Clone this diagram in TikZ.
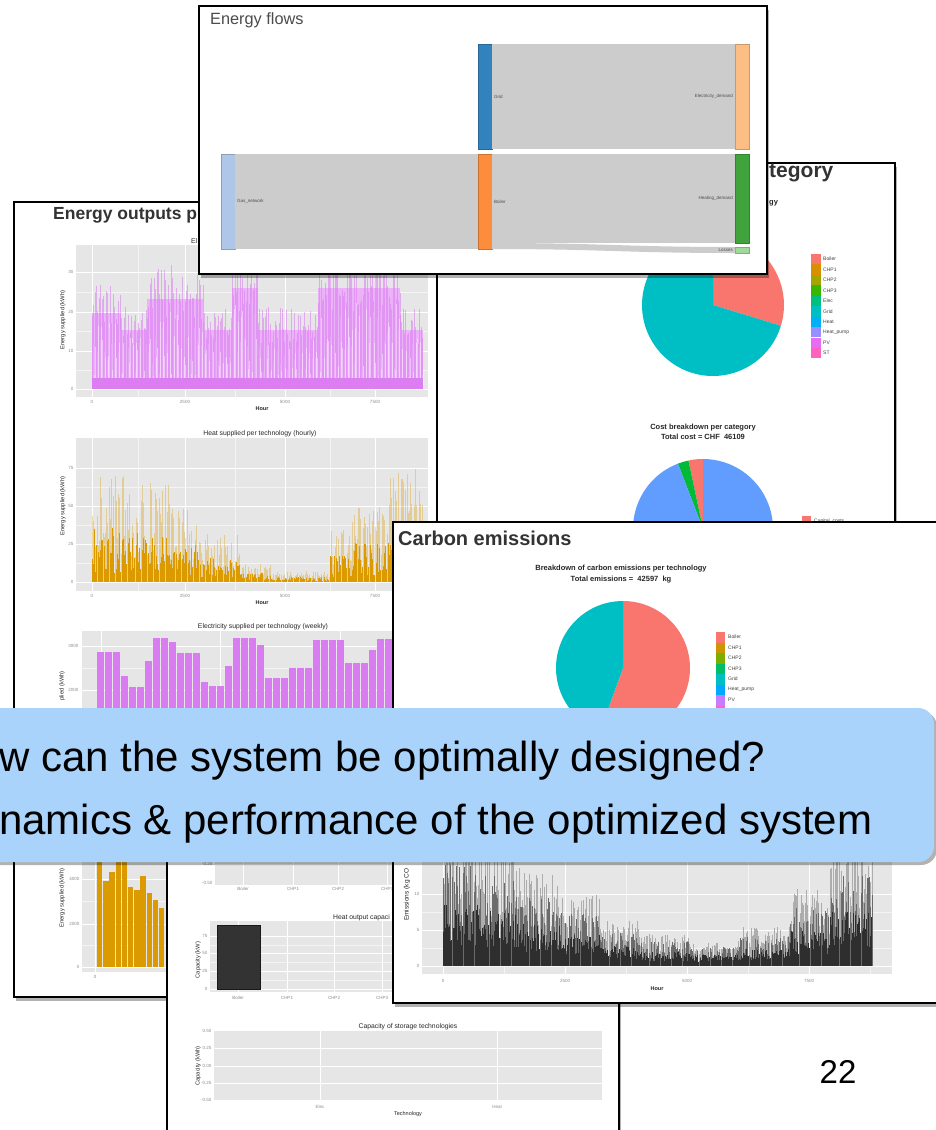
\documentclass[tikz,border=0pt]{standalone}
\usepackage{fontspec}
\setmainfont{Liberation Sans}
\usepackage{tikz}
\usetikzlibrary{positioning, shadows}

\definecolor{ggbg}{HTML}{E6E6E6}
\definecolor{ggsalmon}{HTML}{F8766D}
\definecolor{ggteal}{HTML}{00BFC4}
\definecolor{ggblue}{HTML}{619CFF}
\definecolor{gggreen}{HTML}{00BA38}
\definecolor{pvpink}{HTML}{D97CF2}
\definecolor{pvlight}{HTML}{EBB2F7}
\definecolor{pvdark}{HTML}{DC7DF2}
\definecolor{heatorange}{HTML}{DB9A00}
\definecolor{calloutblue}{HTML}{A9D3FA}
\definecolor{sgrid}{HTML}{3182BD}
\definecolor{selec}{HTML}{FDBE85}
\definecolor{sgas}{HTML}{AEC7E8}
\definecolor{sboiler}{HTML}{FD8D3C}
\definecolor{sheat}{HTML}{41A33E}
\definecolor{sloss}{HTML}{A1D99B}
\definecolor{slink}{HTML}{CCCCCC}
% ggplot hue palettes (10 and 8 levels)
\definecolor{ggc1}{HTML}{F8766D}
\definecolor{ggc2}{HTML}{D89000}
\definecolor{ggc3}{HTML}{A3A500}
\definecolor{ggc4}{HTML}{39B600}
\definecolor{ggc5}{HTML}{00BF7D}
\definecolor{ggc6}{HTML}{00BFC4}
\definecolor{ggc7}{HTML}{00B0F6}
\definecolor{ggc8}{HTML}{9590FF}
\definecolor{ggc9}{HTML}{E76BF3}
\definecolor{ggc10}{HTML}{FF62BC}
\definecolor{ggd1}{HTML}{F8766D}
\definecolor{ggd2}{HTML}{CD9600}
\definecolor{ggd3}{HTML}{7CAE00}
\definecolor{ggd4}{HTML}{00BE67}
\definecolor{ggd5}{HTML}{00BFC4}
\definecolor{ggd6}{HTML}{00A9FF}
\definecolor{ggd7}{HTML}{C77CFF}
\definecolor{ggd8}{HTML}{FF61CC}

\begin{document}
\begin{tikzpicture}[
        x=1pt, y=-1pt,
        panel/.style={draw=black, line width=2.4pt, fill=white, drop shadow={shadow xshift=2pt, shadow yshift=-4pt, opacity=0.3, fill=black}},
        plotbg/.style={fill=ggbg},
        gridln/.style={draw=white, line width=0.7pt},
        gridmin/.style={draw=white!55!ggbg, line width=0.35pt},
        ticklbl/.style={font=\fontsize{4.5}{5}\selectfont, text=black!45, inner sep=0.5pt},
        axtitle/.style={font=\fontsize{5.8}{6}\selectfont, text=black!85, inner sep=0pt},
        hourlbl/.style={font=\bfseries\fontsize{5.5}{6}\selectfont, text=black!85, inner sep=0pt},
        ptitle/.style={font=\fontsize{6.8}{7}\selectfont, text=black!85, inner sep=0pt},
        btitle/.style={font=\bfseries\fontsize{7.5}{10}\selectfont, text=black!85, inner sep=0pt, align=center},
        heading/.style={font=\bfseries\fontsize{#1}{#1}\selectfont, text=black!80, inner sep=0pt, anchor=west},
        heading/.default=19,
        legendlbl/.style={font=\fontsize{5}{6}\selectfont, text=black!75, anchor=west, inner sep=0pt},
        snode/.style={minimum width=14pt, inner sep=0pt, outer sep=0pt, line width=0.4pt},
        slabel/.style={font=\fontsize{4.5}{5}\selectfont, text=black!70, inner sep=0pt},
        link/.style={fill=slink},
        elecline/.style={draw=pvpink, line width=0.6pt, opacity=0.55},
        elecgap/.style={draw=white, line width=0.3pt, opacity=0.45},
        heatlight/.style={draw=heatorange, line width=0.5pt, opacity=0.35},
        heatbar/.style={draw=heatorange, line width=0.9pt},
        emlight/.style={draw=black!32, line width=0.6pt},
        emmid/.style={draw=black!58, line width=0.6pt},
        emdark/.style={draw=black!82, line width=0.8pt},
        callout/.style={fill=calloutblue, rounded corners=16pt, drop shadow={shadow xshift=3pt, shadow yshift=-3pt, opacity=0.3, fill=black}},
        calltext/.style={font=\fontsize{42}{48}\selectfont, text=black, inner sep=0pt, anchor=base west}
    ]
    \useasboundingbox (0,0) rectangle (936,1130);
    \pgfmathsetseed{3}

    % --- Energy outputs per technology (left panel) ---
    \path[panel] (14,202) rectangle (437,997);
    \node[heading=17.5] (outhead) at (53,215) {Energy outputs p};

    % electricity, hourly
    \fill[plotbg] (76,245) rectangle (428,397);
    \foreach \gx in {138,235,330} \draw[gridmin] (\gx,245) -- (\gx,397);
    \foreach \gy in {292,331,370} \draw[gridmin] (76,\gy) -- (428,\gy);
    \foreach \gx in {92,185,285,375} \draw[gridln] (\gx,245) -- (\gx,397);
    \foreach \gy in {272,312,351,389} \draw[gridln] (76,\gy) -- (428,\gy);
    \foreach \xa/\xb/\vm in {92/120/27, 120/147/21, 147/203/32, 203/232/21, 232/258/36, 258/318/21, 318/372/36, 372/400/36, 400/423/21}{
        \fill[pvlight] (\xa,389) rectangle (\xb,{389-3.9*0.72*\vm});
        \pgfmathsetmacro{\xs}{\xa+1.4}
        \foreach \xx in {\xa,\xs,...,\xb}{
            \draw[elecline] (\xx,389) -- ++(0,{-3.9*\vm*(0.55+0.45*rnd)});
            \draw[elecgap] ({\xx+0.7},385) -- ++(0,{-3.9*\vm*0.6*rnd});
        }
    }
    \fill[pvdark] (92,389) rectangle (423,378);
    \foreach \gy/\lbl in {272/30,312/20,351/10,389/0} \node[ticklbl, anchor=east] (ehy\lbl) at (74,\gy) {\lbl};
    \foreach \gx/\lbl in {92/0,185/2500,285/5000,375/7500} \node[ticklbl] (ehx\lbl) at (\gx,402) {\lbl};
    \node[hourlbl] (ehhour) at (262,409) {Hour};
    \node[axtitle, rotate=90] (ehylab) at (63,320) {Energy supplied (kWh)};
    \node[ptitle, anchor=west] (ehtitle) at (191,241) {El};

    % heat, hourly
    \node[ptitle] (hhtitle) at (260,434) {Heat supplied per technology (hourly)};
    \fill[plotbg] (76,438) rectangle (428,591);
    \foreach \gx in {138,235,330} \draw[gridmin] (\gx,438) -- (\gx,591);
    \foreach \gy in {487,525,563} \draw[gridmin] (76,\gy) -- (428,\gy);
    \foreach \gx in {92,185,285,375} \draw[gridln] (\gx,438) -- (\gx,591);
    \foreach \gy in {468,506,544,582} \draw[gridln] (76,\gy) -- (428,\gy);
    \foreach \xa/\xb/\vm in {92/130/72, 130/170/66, 170/200/50, 200/240/32, 240/270/12, 270/330/7, 330/352/35, 352/390/52, 390/423/75}{
        \pgfmathsetmacro{\xs}{\xa+1.2}
        \foreach \xx in {\xa,\xs,...,\xb}{
            \draw[heatlight] (\xx,582) -- ++(0,{-1.52*\vm*(0.25+0.75*rnd)});
            \draw[heatbar] (\xx,582) -- ++(0,{-1.52*\vm*(0.08+0.42*rnd)});
        }
    }
    \foreach \gy/\lbl in {468/75,506/50,544/25,582/0} \node[ticklbl, anchor=east] (hhy\lbl) at (74,\gy) {\lbl};
    \foreach \gx/\lbl in {92/0,185/2500,285/5000,375/7500} \node[ticklbl] (hhx\lbl) at (\gx,596) {\lbl};
    \node[hourlbl] (hhhour) at (262,603) {Hour};
    \node[axtitle, rotate=90] (hhylab) at (63,506) {Energy supplied (kWh)};

    % electricity, weekly
    \node[ptitle] (ewtitle) at (263,627) {Electricity supplied per technology (weekly)};
    \fill[plotbg] (82,631) rectangle (428,720);
    \foreach \gy in {668} \draw[gridmin] (82,\gy) -- (428,\gy);
    \foreach \gy in {646,690} \draw[gridln] (82,\gy) -- (428,\gy);
    \foreach \gx in {101,220,340} \draw[gridln] (\gx,631) -- (\gx,720);
    \foreach \top [count=\i from 0] in {652,652,652,676,687,687,661,638,638,642,653,653,653,682,686,686,666,638,638,638,645,678,678,678,668,668,668,640,640,640,640,663,663,663,650,639,639,639,650,660}
        \fill[pvpink] ({97+8*\i},\top) rectangle ({104+8*\i},720);
    \foreach \gy/\lbl in {646/3000,690/2000} \node[ticklbl, anchor=east] (ewy\lbl) at (79,\gy) {\lbl};
    \node[axtitle, rotate=90, anchor=east] (ewylab) at (62,671) {plied (kWh)};

    % heat, weekly
    \fill[plotbg] (82,855) rectangle (170,972);
    \foreach \gy in {901,945} \draw[gridmin] (82,\gy) -- (170,\gy);
    \foreach \gy in {879,924,967} \draw[gridln] (82,\gy) -- (170,\gy);
    \draw[gridln] (95,855) -- (95,972);
    \foreach \top [count=\i from 0] in {855,881,872,862,862,887,890,876,893,900,908}
        \fill[heatorange] ({97+6.2*\i},\top) rectangle ({102.4+6.2*\i},967);
    \foreach \gy/\lbl in {879/4000,924/2000,967/0} \node[ticklbl, anchor=east] (hwy\lbl) at (80,\gy) {\lbl};
    \node[ticklbl] (hwx0) at (95,977) {0};
    \node[axtitle, rotate=90] (hwylab) at (62,898) {Energy supplied (kWh)};

    % --- Cost breakdown panel (right) ---
    \path[panel] (437,163) rectangle (895,530);
    \node[heading=21] (costhead) at (769,173) {tegory};
    \node[btitle, anchor=west] (costsub) at (769,203) {gy};
    \coordinate (techpie) at (713,305);
    \fill[ggsalmon] (techpie) -- ++(-17:71pt) arc[start angle=-17, end angle=90, radius=71pt] -- cycle;
    \fill[ggteal] (techpie) -- ++(90:71pt) arc[start angle=90, end angle=343, radius=71pt] -- cycle;
    \foreach \lbl/\col [count=\i from 0] in {Boiler/ggc1, CHP1/ggc2, CHP2/ggc3, CHP3/ggc4, Elec/ggc5, Grid/ggc6, Heat/ggc7, Heat\_pump/ggc8, PV/ggc9, ST/ggc10}{
        \fill[\col] (811,{254+10.44*\i}) rectangle (821,{264.4+10.44*\i});
        \node[legendlbl] (techleg\i) at (823,{259.2+10.44*\i}) {\lbl};
    }
    \node[btitle] (cattitle) at (703,432) {Cost breakdown per category\\Total cost = CHF\ \ 46109};
    \coordinate (catpie) at (703,529);
    \fill[ggsalmon] (catpie) -- ++(90:70pt) arc[start angle=90, end angle=102, radius=70pt] -- cycle;
    \fill[gggreen] (catpie) -- ++(102:70pt) arc[start angle=102, end angle=111, radius=70pt] -- cycle;
    \fill[ggblue] (catpie) -- ++(111:70pt) arc[start angle=111, end angle=450, radius=70pt] -- cycle;
    \fill[ggsalmon] (802,516) rectangle (811,525);
    \node[legendlbl] (catleg) at (814,521) {Capital\_costs};

    % --- Capacity panel (bottom centre) ---
    \path[panel] (167,845) rectangle (619,1140);
    % installed capacity
    \fill[plotbg] (215,845) rectangle (400,885);
    \foreach \gx in {243,293,338,387} \draw[gridln] (\gx,845) -- (\gx,885);
    \draw[gridln] (215,864) -- (400,864);
    \node[ticklbl, anchor=east] (cay1) at (213,864) {-0.25};
    \node[ticklbl, anchor=east] (cay2) at (213,883) {-0.50};
    \foreach \gx/\lbl in {243/Boiler,293/CHP1,338/CHP2,387/CHP3} \node[ticklbl] (cax\lbl) at (\gx,889) {\lbl};
    % heat output capacity
    \node[ptitle, anchor=west] (cbtitle) at (333,918) {Heat output capaci};
    \fill[plotbg] (210,921) rectangle (400,992);
    \foreach \gy in {945,962,980} \draw[gridmin] (210,\gy) -- (400,\gy);
    \foreach \gy in {936,953,971,989} \draw[gridln] (210,\gy) -- (400,\gy);
    \foreach \gx in {238,287,334,382} \draw[gridln] (\gx,921) -- (\gx,992);
    \fill[black!80, draw=black!90, line width=0.4pt] (217,925) rectangle (260,989);
    \foreach \gy/\lbl in {936/75,953/50,971/25,989/0} \node[ticklbl, anchor=east] (cby\lbl) at (208,\gy) {\lbl};
    \foreach \gx/\lbl in {238/Boiler,287/CHP1,334/CHP2,382/CHP3} \node[ticklbl] (cbx\lbl) at (\gx,998) {\lbl};
    \node[axtitle, rotate=90] (cbylab) at (198,960) {Capacity (kW)};
    % storage capacity
    \node[ptitle] (cctitle) at (408,1027) {Capacity of storage technologies};
    \fill[plotbg] (214,1031) rectangle (602,1100);
    \foreach \gy in {1048,1066,1083} \draw[gridln] (214,\gy) -- (602,\gy);
    \foreach \gx in {320,497} \draw[gridln] (\gx,1031) -- (\gx,1100);
    \foreach \gy/\lbl [count=\i] in {1031/0.50,1048/0.25,1066/0.00,1083/-0.25,1100/-0.50} \node[ticklbl, anchor=east] (ccy\i) at (212,\gy) {\lbl};
    \node[ticklbl] (ccxelec) at (320,1107) {Elec};
    \node[ticklbl] (ccxheat) at (497,1107) {Heat};
    \node[hourlbl, font=\fontsize{5.5}{6}\selectfont] (cctech) at (408,1114) {Technology};
    \node[axtitle, rotate=90] (ccylab) at (198,1066) {Capacity (kWh)};

    % --- Carbon emissions panel ---
    \path[panel] (393,522) rectangle (945,1003);
    \node[heading=20] (carbhead) at (398,538) {Carbon emissions};
    \node[btitle, font=\bfseries\fontsize{7.5}{11}\selectfont] (carbtitle) at (621,574) {Breakdown of carbon emissions per technology\\Total emissions =\ \ 42597\ \ kg};
    \coordinate (carbpie) at (623,668);
    \fill[ggsalmon] (carbpie) -- ++(-110:67pt) arc[start angle=-110, end angle=90, radius=67pt] -- cycle;
    \fill[ggteal] (carbpie) -- ++(90:67pt) arc[start angle=90, end angle=250, radius=67pt] -- cycle;
    \foreach \lbl/\col [count=\i from 0] in {Boiler/ggd1, CHP1/ggd2, CHP2/ggd3, CHP3/ggd4, Grid/ggd5, Heat\_pump/ggd6, PV/ggd7, ST/ggd8}{
        \fill[\col] (716,{632+10.5*\i}) rectangle (725,{642.5+10.5*\i});
        \node[legendlbl] (carbleg\i) at (728,{637.2+10.5*\i}) {\lbl};
    }
    % emissions, hourly
    \fill[plotbg] (422,845) rectangle (892,974);
    \foreach \gx in {504,626,748,870} \draw[gridmin] (\gx,845) -- (\gx,974);
    \foreach \gy in {912,948} \draw[gridmin] (422,\gy) -- (892,\gy);
    \foreach \gx in {443,565,687,809} \draw[gridln] (\gx,845) -- (\gx,974);
    \foreach \gy in {894,930,966} \draw[gridln] (422,\gy) -- (892,\gy);
    \foreach \xa/\xb/\vm in {443/480/19, 480/520/17, 520/560/13, 560/600/10, 600/640/6.5, 640/690/4.5, 690/740/3.5, 740/790/5.5, 790/830/11, 830/872/17}{
        \pgfmathsetmacro{\xs}{\xa+1.1}
        \foreach \xx in {\xa,\xs,...,\xb}{
            \draw[emlight] (\xx,966) -- ++(0,{-7.2*\vm*(0.4+0.6*rnd)});
            \draw[emmid] (\xx,966) -- ++(0,{-7.2*\vm*(0.2+0.55*rnd)});
            \draw[emdark] (\xx,966) -- ++(0,{-7.2*\vm*(0.15+0.3*rnd)});
        }
    }
    \foreach \gy/\lbl in {894/10,930/5,966/0} \node[ticklbl, anchor=east] (emy\lbl) at (420,\gy) {\lbl};
    \foreach \gx/\lbl in {443/0,565/2500,687/5000,809/7500} \node[ticklbl] (emx\lbl) at (\gx,981) {\lbl};
    \node[hourlbl] (emhour) at (657,989) {Hour};
    \node[axtitle, font=\fontsize{6.5}{7}\selectfont, rotate=90, anchor=west] (emylab) at (407,921) {Emissions (kg CO};

    % --- Energy flows panel (top) ---
    \path[panel] (199,6) rectangle (767,274);
    \node[anchor=west, font=\fontsize{16.3}{18}\selectfont, text=black!70, inner sep=0pt] (flowhead) at (210,20) {Energy flows};
    \node[snode, fill=sgrid, draw=sgrid!80!black, minimum height=105pt] (grid) at (485,96.5) {};
    \node[snode, fill=selec, draw=selec!80!black, minimum height=105pt] (elecdem) at (742,96.5) {};
    \node[snode, fill=sgas, draw=sgas!80!black, minimum height=95pt] (gasnet) at (228,201.5) {};
    \node[snode, fill=sboiler, draw=sboiler!80!black, minimum height=95pt] (boiler) at (485,201.5) {};
    \node[snode, fill=sheat, draw=sheat!80!black, minimum height=89pt] (heatdem) at (742,198.5) {};
    \node[snode, fill=sloss, draw=sloss!80!black, minimum height=6pt] (losses) at (742,250) {};
    \fill[link] (grid.north east) rectangle (elecdem.south west);
    \fill[link] (gasnet.north east) rectangle (boiler.south west);
    \fill[link] (boiler.north east) rectangle (heatdem.south west);
    \fill[link] (boiler.south east) -- ([yshift=6pt]boiler.south east) .. controls +(110,0) and +(-110,0) .. (losses.north west) -- (losses.south west) .. controls +(-110,0) and +(110,0) .. (boiler.south east) -- cycle;
    \node[slabel, right=2pt of grid] (gridlbl) {Grid};
    \node[slabel, left=2pt of elecdem] (eleclbl) {Electricity\_demand};
    \node[slabel, right=2pt of gasnet] (gaslbl) {Gas\_network};
    \node[slabel, right=2pt of boiler] (boilerlbl) {Boiler};
    \node[slabel, left=2pt of heatdem] (heatlbl) {Heating\_demand};
    \node[slabel, left=2pt of losses] (losslbl) {Losses};

    % --- Callout ---
    \path[callout] (-40,708) rectangle (934,862);
    \node[calltext] (question) at (-1,771) {w can the system be optimally designed?};
    \node[calltext] (dynamics) at (-1,834) {namics \& performance of the optimized system};

    % --- Page number ---
    \node[font=\fontsize{33}{36}\selectfont, inner sep=0pt] (pageno) at (838,1072) {22};
\end{tikzpicture}
\end{document}
